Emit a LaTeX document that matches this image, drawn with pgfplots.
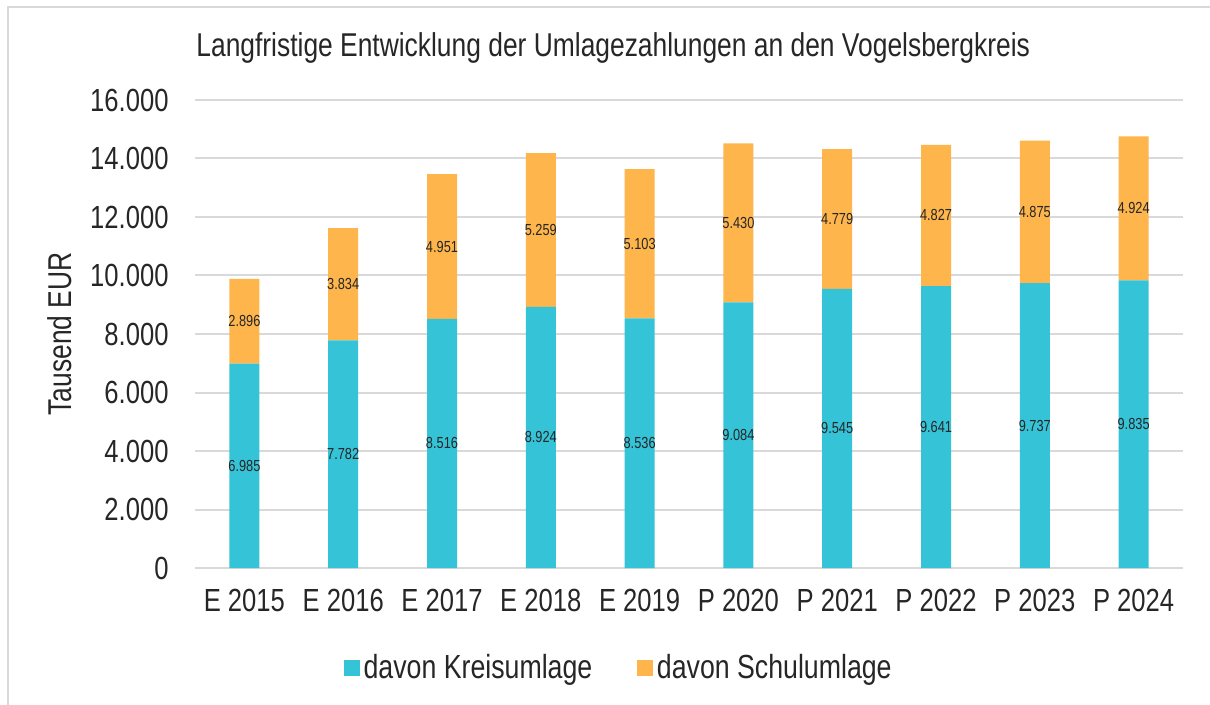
\documentclass[border=0pt]{standalone}
\usepackage{fontspec}
\setmainfont{Liberation Sans}[FakeStretch=0.8]
\usepackage{pgfplots}
\pgfplotsset{compat=1.18}
\definecolor{kreis}{HTML}{35C3D7}
\definecolor{schul}{HTML}{FDB54C}
\definecolor{gridc}{HTML}{D9D9D9}
\definecolor{txt}{HTML}{262626}

\begin{document}
\begin{tikzpicture}
\useasboundingbox (0,0) rectangle (605pt,-352.5pt);
\draw[gridc, line width=1pt] (4pt,-352.5pt) -- (4pt,-3.5pt) -- (605pt,-3.5pt);
\node[anchor=base west, font=\fontsize{16.5}{19}\selectfont, text=txt, inner sep=0pt]
  at (98pt,-28.5pt) {Langfristige Entwicklung der Umlagezahlungen an den Vogelsbergkreis};

\begin{axis}[
    at={(97.5pt,-284pt)}, anchor=south west,
    scale only axis, width=494pt, height=234pt,
    ybar stacked, bar width=15pt,
    xmin=-0.5, xmax=9.5, ymin=0, ymax=16000,
    xtick={0,...,9},
    xticklabels={E 2015,E 2016,E 2017,E 2018,E 2019,P 2020,P 2021,P 2022,P 2023,P 2024},
    ytick={0,2000,...,16000},
    scaled y ticks=false,
    ymajorgrids, grid style={gridc, line width=1pt},
    axis line style={draw=none}, major tick length=0pt,
    tick label style={font=\fontsize{16}{19}\selectfont, text=txt},
    yticklabel style={xshift=-9.7pt, /pgf/number format/1000 sep={.}, /pgf/number format/assume math mode=true},
    xticklabel style={yshift=-7pt},
    ylabel={Tausend EUR},
    ylabel style={at={(rel axis cs:-0.1366,0.5)}, anchor=center, font=\fontsize{16.5}{19}\selectfont, text=txt},
    every axis plot/.append style={draw=none},
    legend style={at={(0.43,-0.2137)}, anchor=center, legend columns=2, draw=none, fill=none,
        font=\fontsize{16.7}{19}\selectfont, text=txt,
        /tikz/every even column/.append style={column sep=20.5pt}},
    legend image code/.code={\fill[#1] (0pt,-3.9pt) rectangle (7.8pt,3.9pt);},
]
\addplot[fill=kreis] coordinates {(0,6985) (1,7782) (2,8516) (3,8924) (4,8536) (5,9084) (6,9545) (7,9641) (8,9737) (9,9835)};
\addlegendentry{davon Kreisumlage}
\addplot[fill=schul] coordinates {(0,2896) (1,3834) (2,4951) (3,5259) (4,5103) (5,5430) (6,4779) (7,4827) (8,4875) (9,4924)};
\addlegendentry{davon Schulumlage}
\end{axis}

\begin{axis}[
    at={(97.5pt,-284pt)}, anchor=south west,
    scale only axis, width=494pt, height=234pt,
    xmin=-0.5, xmax=9.5, ymin=0, ymax=16000,
    hide axis,
    nodes near coords style={font=\fontsize{8}{9}\selectfont, text=txt, anchor=center, inner sep=0pt},
]
\addplot[draw=none, nodes near coords, point meta=explicit symbolic] coordinates {
  (0,3492.5)[6.985] (1,3891)[7.782] (2,4258)[8.516] (3,4462)[8.924] (4,4268)[8.536]
  (5,4542)[9.084] (6,4772.5)[9.545] (7,4820.5)[9.641] (8,4868.5)[9.737] (9,4917.5)[9.835]};
\addplot[draw=none, nodes near coords, point meta=explicit symbolic] coordinates {
  (0,8433)[2.896] (1,9699)[3.834] (2,10991.5)[4.951] (3,11553.5)[5.259] (4,11087.5)[5.103]
  (5,11799)[5.430] (6,11934.5)[4.779] (7,12054.5)[4.827] (8,12174.5)[4.875] (9,12297)[4.924]};
\end{axis}
\end{tikzpicture}
\end{document}
